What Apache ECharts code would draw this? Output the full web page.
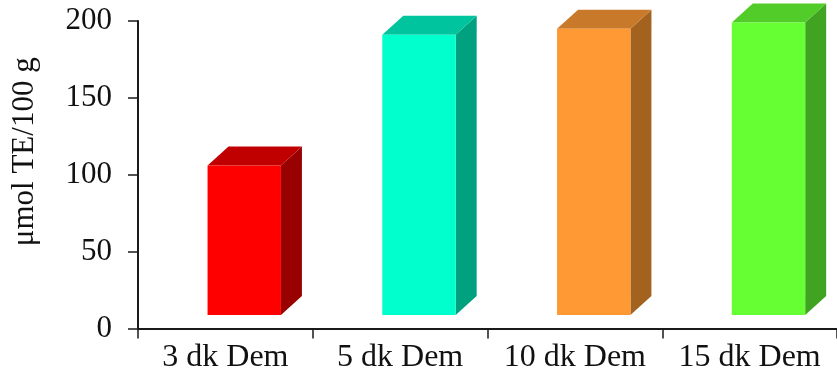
<!DOCTYPE html>
<html>
<head>
<meta charset="utf-8">
<script src="https://cdn.jsdelivr.net/npm/echarts@6/dist/echarts.min.js"></script>
<style>
  html, body { margin: 0; padding: 0; background: #fff; }
  #chart { width: 837px; height: 385px; }
</style>
</head>
<body>
<div id="chart"></div>
<script>
// Demleme süresine göre antioksidan kapasite
const categories = ['3 dk Dem', '5 dk Dem', '10 dk Dem', '15 dk Dem'];
const values = [106, 191, 195, 199];
const frontColors = ['#ff0000', '#00ffcc', '#ff9933', '#66ff33'];
const topColors = ['#c00000', '#00c49d', '#c87a2a', '#52cc29'];
const sideColors = ['#990000', '#00a17f', '#a3631f', '#40a322'];
const yTicks = [0, 50, 100, 150, 200];

const chart = echarts.init(document.getElementById('chart'));
const serif = '"Liberation Serif", "Times New Roman", serif';

// Draws one column as a box: front face, top face and right side face.
function renderBox(params, api) {
  const idx = params.dataIndex;
  const band = api.size([1, 0])[0];
  const topPt = api.coord([api.value(0), api.value(1)]);
  const basePt = api.coord([api.value(0), 0]);
  const cx = topPt[0];
  const left = cx - band * 0.102;
  const right = left + band * 0.42;
  const dx = band * 0.12;
  const dy = 19;
  const ty = topPt[1];
  const by = basePt[1] - 13.5;
  return {
    type: 'group',
    children: [
      {
        type: 'polygon',
        shape: { points: [[right, ty], [right + dx, ty - dy], [right + dx, by - dy], [right, by]] },
        style: { fill: sideColors[idx] }
      },
      {
        type: 'polygon',
        shape: { points: [[left, ty], [right, ty], [right + dx, ty - dy], [left + dx, ty - dy]] },
        style: { fill: topColors[idx] }
      },
      {
        type: 'rect',
        shape: { x: left, y: ty, width: right - left, height: by - ty },
        style: { fill: frontColors[idx] }
      }
    ]
  };
}

chart.setOption({
  animation: false,
  grid: { left: 138, right: -5, top: 21, bottom: 56.5, containLabel: false },
  xAxis: {
    type: 'category',
    data: categories,
    axisLine: { lineStyle: { color: '#1a1a1a', width: 2 } },
    axisTick: { show: true, interval: 0, length: 10, lineStyle: { color: '#1a1a1a', width: 1.5 } },
    axisLabel: { interval: 0, color: '#111', fontFamily: serif, fontSize: 32, margin: 13 }
  },
  yAxis: {
    type: 'value',
    min: yTicks[0],
    max: yTicks[yTicks.length - 1],
    interval: 50,
    name: 'μmol TE/100 g',
    nameLocation: 'middle',
    nameRotate: 90,
    nameGap: 98,
    nameTextStyle: { color: '#111', fontFamily: serif, fontSize: 31, padding: [0, 0, 0, 46] },
    axisLine: { show: true, lineStyle: { color: '#1a1a1a', width: 2 } },
    axisTick: { show: true, length: 10, lineStyle: { color: '#1a1a1a', width: 1.5 } },
    axisLabel: { color: '#111', fontFamily: serif, fontSize: 31, margin: 26 },
    splitLine: { show: false }
  },
  series: [{
    type: 'custom',
    clip: false,
    renderItem: renderBox,
    encode: { x: 0, y: 1 },
    data: categories.map((c, i) => [i, values[i]])
  }]
});
</script>
</body>
</html>
